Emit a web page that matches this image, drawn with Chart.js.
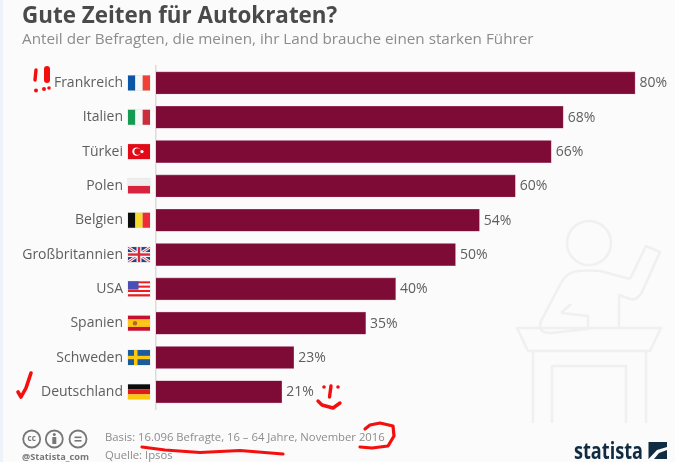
<!DOCTYPE html>
<html><head><meta charset="utf-8">
<script src="https://cdn.jsdelivr.net/npm/chart.js@4"></script>
<style>html,body{margin:0;padding:0;background:#fbfbfb;overflow:hidden}canvas{display:block}</style>
</head><body><div style="width:675px;height:462px"><canvas id="c"></canvas></div>
<script>
const categories=["Frankreich","Italien","Türkei","Polen","Belgien","Großbritannien","USA","Spanien","Schweden","Deutschland"];
const values=[80,68,66,60,54,50,40,35,23,21];
const titleText="Gute Zeiten für Autokraten?";
const subtitleText="Anteil der Befragten, die meinen, ihr Land brauche einen starken Führer";
const basisText="Basis: 16.096 Befragte, 16 – 64 Jahre, November 2016";
const sourceText="Quelle: Ipsos";
const handleText="@Statista_com";
const logoText="statista";
const F='"Open Sans"';

function vert(c,x,y,w,h,cols){cols.forEach((k,i)=>{c.fillStyle=k;c.fillRect(x+i*w/cols.length,y,w/cols.length,h);});}
function horiz(c,x,y,w,h,cols){cols.forEach((k,i)=>{c.fillStyle=k;c.fillRect(x,y+i*h/cols.length,w,h/cols.length);});}
const flags={
 "Frankreich":(c,x,y,w,h)=>vert(c,x,y,w,h,["#0a55a5","#f7f7f7","#ef4135"]),
 "Italien":(c,x,y,w,h)=>vert(c,x,y,w,h,["#169b52","#f7f7f7","#c92e3a"]),
 "Türkei":(c,x,y,w,h)=>{c.fillStyle="#e30a17";c.fillRect(x,y,w,h);c.fillStyle="#fff";c.beginPath();c.arc(x+8.5,y+h/2,4.2,0,7);c.fill();c.fillStyle="#e30a17";c.beginPath();c.arc(x+9.6,y+h/2,3.3,0,7);c.fill();c.fillStyle="#fff";c.beginPath();c.arc(x+14,y+h/2,1.6,0,7);c.fill();},
 "Polen":(c,x,y,w,h)=>horiz(c,x,y,w,h,["#eeeeee","#d8233f"]),
 "Belgien":(c,x,y,w,h)=>vert(c,x,y,w,h,["#0c0c0c","#fad92f","#ef2b36"]),
 "Großbritannien":(c,x,y,w,h)=>{c.fillStyle="#27408f";c.fillRect(x,y,w,h);c.save();c.beginPath();c.rect(x,y,w,h);c.clip();c.strokeStyle="#f4f4f4";c.lineWidth=3;c.beginPath();c.moveTo(x,y);c.lineTo(x+w,y+h);c.moveTo(x+w,y);c.lineTo(x,y+h);c.stroke();c.strokeStyle="#d9414f";c.lineWidth=1;c.stroke();c.fillStyle="#f4f4f4";c.fillRect(x+w/2-2.5,y,5,h);c.fillRect(x,y+h/2-2.5,w,5);c.fillStyle="#d9293a";c.fillRect(x+w/2-1.2,y,2.4,h);c.fillRect(x,y+h/2-1.2,w,2.4);c.restore();},
 "USA":(c,x,y,w,h)=>{for(let i=0;i<7;i++){c.fillStyle=i%2?"#fff":"#f01a22";c.fillRect(x,y+i*h/7,w,h/7);}c.fillStyle="#4a4fb5";c.fillRect(x,y,w*.48,h*.55);},
 "Spanien":(c,x,y,w,h)=>{horiz(c,x,y,w,h,["#c8102e","#fcc419","#fcc419","#c8102e"]);c.fillStyle="#b5651d";c.beginPath();c.arc(x+7,y+h/2,2.2,0,7);c.fill();},
 "Schweden":(c,x,y,w,h)=>{c.fillStyle="#1d5c9b";c.fillRect(x,y,w,h);c.fillStyle="#fdc814";c.fillRect(x+6,y,3.5,h);c.fillRect(x,y+h/2-1.7,w,3.4);},
 "Deutschland":(c,x,y,w,h)=>horiz(c,x,y,w,h,["#0c0c0c","#dd1c1c","#fcc80e"])
};

function stroke(c,pts,color,lw){c.strokeStyle=color;c.lineWidth=lw;c.lineCap="round";c.lineJoin="round";c.beginPath();pts.forEach((p,i)=>i?c.lineTo(p[0],p[1]):c.moveTo(p[0],p[1]));c.stroke();}
function dot(c,x,y,r,col){c.fillStyle=col;c.beginPath();c.arc(x,y,r,0,7);c.fill();}

const backdrop={id:"backdrop",beforeDraw(ch){const c=ch.ctx;c.save();
 c.fillStyle="#fbfbfb";c.fillRect(0,0,675,462);
 c.fillStyle="#eef3fa";c.fillRect(0,0,3,462);
 const g="#f0f0f0";
 c.strokeStyle=g;c.lineWidth=2.6;c.beginPath();c.arc(589,243,22,0,7);c.stroke();
 c.lineJoin="round";c.beginPath();
 c.moveTo(630,279);c.lineTo(646,246);c.lineTo(660,252);c.lineTo(642,292);c.quadraticCurveTo(637,301,630,299);c.lineTo(619,295);c.lineTo(619,327);
 c.moveTo(630,279);c.lineTo(600,271);c.quadraticCurveTo(590,270,578,271);c.quadraticCurveTo(567,272,561,283);c.lineTo(541,321);c.quadraticCurveTo(537,333,550,333);c.lineTo(588,329);c.lineTo(588,316);c.lineTo(561,313);c.moveTo(561,313);c.lineTo(571,304);
 c.moveTo(517,328);c.lineTo(661,328);c.lineTo(650,351);c.lineTo(528,351);c.closePath();
 c.moveTo(533,351);c.lineTo(533,423);c.moveTo(646,351);c.lineTo(646,423);
 c.moveTo(552,423);c.lineTo(552,366);c.lineTo(626,366);c.lineTo(626,423);c.stroke();
 c.restore();}};

const marks={id:"marks",afterDatasetsDraw(ch){const c=ch.ctx,y=ch.scales.y,x=ch.scales.x;c.save();
 categories.forEach((n,i)=>{const py=y.getPixelForValue(i);
  c.fillStyle="#e4e4e4";c.fillRect(127.5,py-8,23,16);
  flags[n](c,128,py-7.5,22,15);
  c.fillStyle="#5e5e5e";c.font='14px '+F;c.textAlign="left";c.textBaseline="middle";
  c.fillText(values[i]+"%",x.getPixelForValue(values[i])+4.5,py+0.5);
 });
 // footer
 c.textBaseline="alphabetic";c.textAlign="left";c.font='11.3px '+F;c.fillStyle="#8c8c8c";
 c.fillText(basisText,105,441);c.fillText(sourceText,105,459);
 c.font='bold 9.2px '+F;c.fillStyle="#777";c.fillText(handleText,22,459.5);
 // licence icons
 [31.7,54.3,78].forEach((cx,i)=>{c.strokeStyle="#777";c.lineWidth=1.8;c.beginPath();c.arc(cx,439,8.5,0,7);c.stroke();
  c.fillStyle="#777";
  if(i===1){dot(c,cx,434.5,1.5,"#777");c.fillRect(cx-2,437,4,7);}
  if(i===2){c.fillRect(cx-3.5,436.5,7,1.6);c.fillRect(cx-3.5,440,7,1.6);}
 });
 c.font='bold 8px '+F;c.fillStyle="#777";c.textAlign="center";c.textBaseline="middle";c.fillText("cc",31.7,438.7);
 // logo
 c.textAlign="left";c.textBaseline="alphabetic";c.font='bold 23px '+F;c.fillStyle="#0f2c43";
 c.fillText(logoText,574,459,69);
 c.fillStyle="#0f2c43";c.beginPath();c.rect(648.5,442,18.5,17);c.fill();
 c.fillStyle="#fbfbfb";c.beginPath();c.moveTo(648.5,459);c.lineTo(657,450);c.lineTo(667,447);c.lineTo(667,450);c.lineTo(659,453);c.lineTo(654,459);c.closePath();c.fill();
 // red handwritten marks
 const r="#f40f0f";
 stroke(c,[[36,70],[35,80]],r,3.4);stroke(c,[[47,69],[47,80]],r,6);
 dot(c,36,90.5,2,r);dot(c,44,89,2,r);dot(c,49,88,1.8,r);
 stroke(c,[[18,392],[21,397],[26,388],[31,373]],r,3.6);
 dot(c,324,387,1.8,r);dot(c,338,387,1.8,r);stroke(c,[[331,386],[329.5,397]],r,3.4);
 stroke(c,[[318,401],[322,405],[333,408],[340,403]],r,3.4);
 stroke(c,[[142,447],[165,450],[200,452.5],[240,450.5],[283,454]],r,3.2);
 stroke(c,[[365,429],[370,425],[380,423],[393,426],[394,436],[388,446],[372,448],[360,447]],r,3.2);
 c.restore();}};

new Chart(document.getElementById("c"),{
 type:"bar",
 data:{labels:categories,datasets:[{data:values,backgroundColor:"#7e0a36",borderColor:"#a85079",borderWidth:0.6,barThickness:22}]},
 plugins:[backdrop,marks],
 options:{
  indexAxis:"y",responsive:true,maintainAspectRatio:false,animation:false,
  layout:{padding:{left:22,right:10,top:3.5,bottom:53}},
  plugins:{legend:{display:false},tooltip:{enabled:false},
   title:{display:true,text:titleText,align:"start",color:"#4a4a4a",font:{family:F,size:22.4,weight:"bold"},padding:{top:0,bottom:0.5}},
   subtitle:{display:true,text:subtitleText,align:"start",color:"#8c8c8c",font:{family:F,size:15.26},padding:{top:0,bottom:16.6}}},
  scales:{
   x:{min:0,max:85,display:false},
   y:{afterFit(s){s.width=134;},grid:{display:false},border:{display:true,color:"#dcdcdc",width:1.5},
      ticks:{color:"#5e5e5e",font:{family:F,size:14},padding:25,autoSkip:false}}
  }
 }
});
</script></body></html>
